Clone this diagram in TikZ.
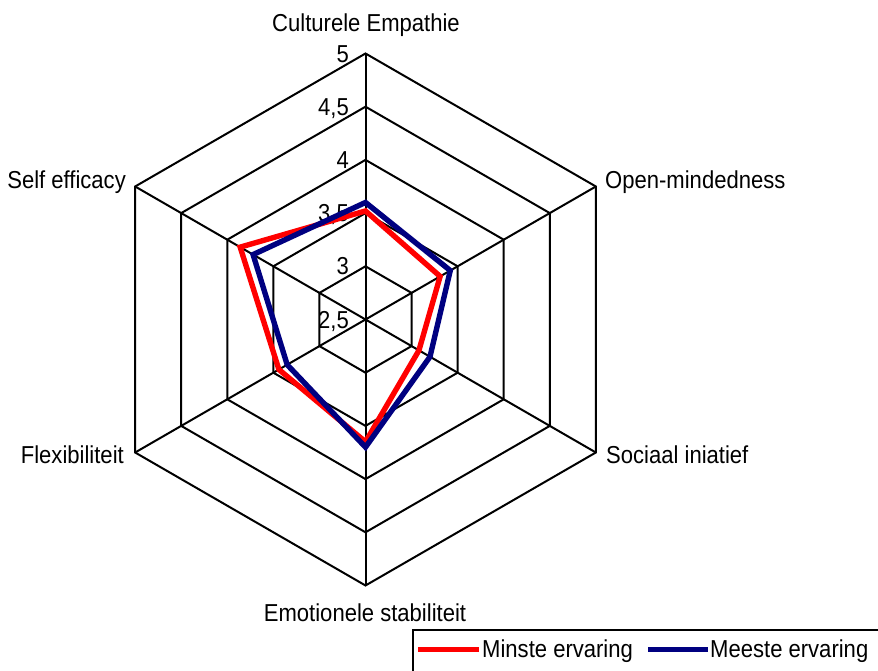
\documentclass[tikz,border=0pt]{standalone}
\usepackage{fontspec}
\setmainfont{Liberation Sans}[FakeStretch=0.9]
\definecolor{minred}{RGB}{255,0,0}
\definecolor{meestblue}{RGB}{0,0,128}
\tikzset{
  gridline/.style={draw=black, line width=2pt},
  serieslineA/.style={draw=minred, line width=5.4pt, line join=miter},
  serieslineB/.style={draw=meestblue, line width=5.4pt, line join=miter},
  axislabel/.style={inner sep=0pt, font=\fontsize{24.5}{28}\selectfont},
  ticklabel/.style={inner sep=0pt, anchor=base east, font=\fontsize{24.5}{28}\selectfont},
  legendbox/.style={draw=black, line width=1.5pt},
}
\begin{document}
\begin{tikzpicture}[x=1pt,y=1pt]
\useasboundingbox (0,0) rectangle (878,671);
\clip (0,0) rectangle (878,671);
\fill[white] (0,0) rectangle (878,671);
\begin{scope}[shift={(365.5,351.5)}]
  % rings
  \foreach \v in {3,3.5,4,4.5,5} {
    \pgfmathsetmacro\rr{(\v-2.5)*106.4}
    \draw[gridline] (90:\rr) -- (30:\rr) -- (-30:\rr) -- (-90:\rr) -- (-150:\rr) -- (150:\rr) -- cycle;
  }
  % spokes
  \coordinate (ctr) at (0,0);
  \foreach \a/\n in {90/ax1,30/ax2,-30/ax3,-90/ax4,-150/ax5,150/ax6} {
    \coordinate (\n) at (\a:266);
    \draw[gridline] (ctr) -- (\n);
  }
  % tick labels
  \foreach \v/\t/\n in {2.5/{2,5}/t0,3/3/t1,3.5/{3,5}/t2,4/4/t3,4.5/{4,5}/t4,5/5/t5} {
    \pgfmathsetmacro\rr{(\v-2.5)*106.4-8.6}
    \node[ticklabel] (\n) at (-16.5,\rr) {\t};
  }
  % series: Minste ervaring
  \foreach \a/\v/\n in {90/3.52/r1,30/3.31/r2,-30/3.08/r3,-90/3.65/r4,-150/3.44/r5,150/3.86/r6} {
    \coordinate (\n) at (\a:{(\v-2.5)*106.4});
  }
  \draw[serieslineA] (r1) -- (r2) -- (r3) -- (r4) -- (r5) -- (r6) -- cycle;
  % series: Meeste ervaring
  \foreach \a/\v/\n in {90/3.60/b1,30/3.42/b2,-30/3.20/b3,-90/3.70/b4,-150/3.35/b5,150/3.72/b6} {
    \coordinate (\n) at (\a:{(\v-2.5)*106.4});
  }
  \draw[serieslineB] (b1) -- (b2) -- (b3) -- (b4) -- (b5) -- (b6) -- cycle;
\end{scope}
% axis labels
\node[axislabel, anchor=base] (lCE) at (366,639) {Culturele Empathie};
\node[axislabel, anchor=base west] (lOM) at (605,482.7) {Open-mindedness};
\node[axislabel, anchor=base west] (lSI) at (606,207.7) {Sociaal iniatief};
\node[axislabel, anchor=base] (lES) at (365,49.3) {Emotionele stabiliteit};
\node[axislabel, anchor=base east] (lFL) at (124,207.7) {Flexibiliteit};
\node[axislabel, anchor=base east] (lSE) at (126,482.7) {Self efficacy};
% legend
\draw[legendbox] (413,41) rectangle (895,-10);
\coordinate (lgA1) at (418,21);
\coordinate (lgA2) at (479,21);
\coordinate (lgB1) at (648,21);
\coordinate (lgB2) at (708,21);
\draw[draw=minred, line width=5pt] (lgA1) -- (lgA2);
\draw[draw=meestblue, line width=5pt] (lgB1) -- (lgB2);
\node[axislabel, anchor=base west] (lgAt) at (482,13.7) {Minste ervaring};
\node[axislabel, anchor=base west] (lgBt) at (710,13.7) {Meeste ervaring};
\end{tikzpicture}
\end{document}
